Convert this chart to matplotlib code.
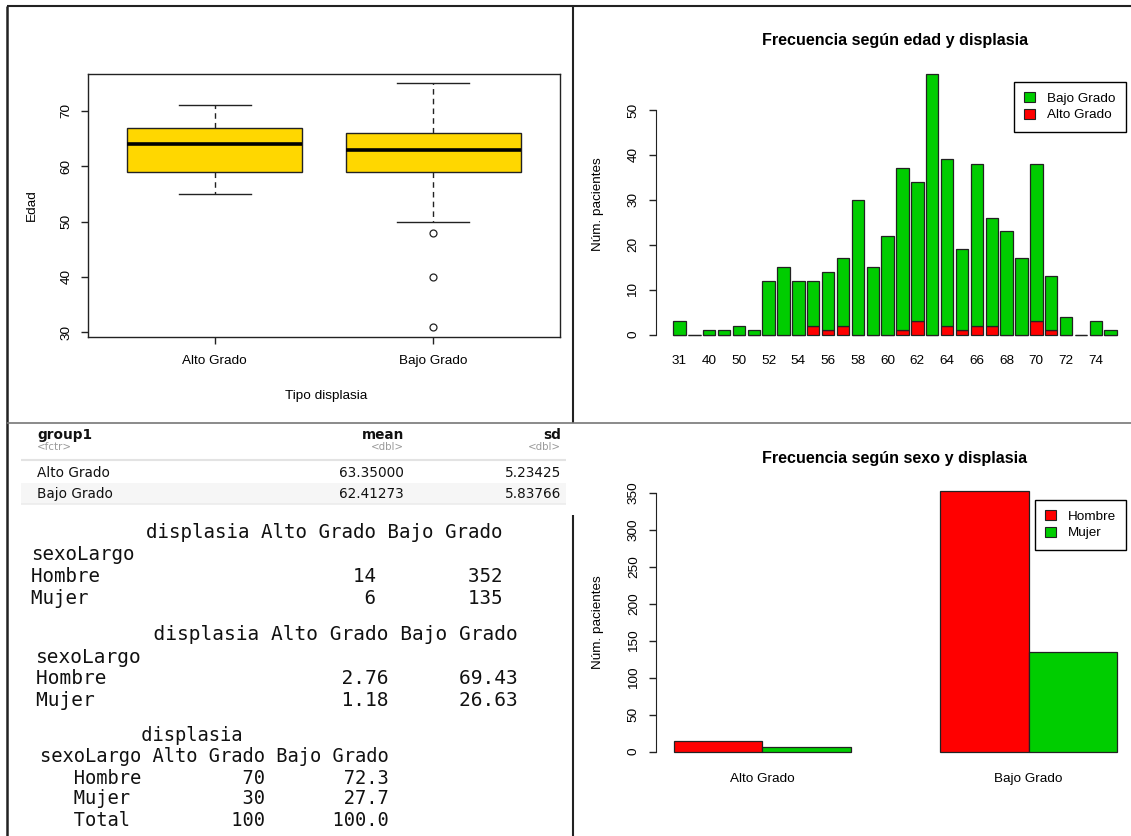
import matplotlib
matplotlib.use("Agg")
import matplotlib.pyplot as plt
from matplotlib.patches import Patch, Rectangle
from matplotlib.lines import Line2D

# ---------------- data ----------------
groups = ["Alto Grado", "Bajo Grado"]
box_whislo = [55, 50]
box_q1 = [59, 59]
box_med = [64, 63]
box_q3 = [67, 66]
box_whishi = [71, 75]
box_fliers = [[], [48, 40, 31]]

ages = ["31", "39", "40", "48", "50", "51", "52", "53", "54", "55", "56", "57",
        "58", "59", "60", "61", "62", "63", "64", "65", "66", "67", "68", "69",
        "70", "71", "72", "73", "74", "75"]
alto_por_edad = [0, 0, 0, 0, 0, 0, 0, 0, 0, 2, 1, 2, 0, 0, 0, 1, 3, 0, 2, 1,
                 2, 2, 0, 0, 3, 1, 0, 0, 0, 0]
bajo_por_edad = [3, 0, 1, 1, 2, 1, 12, 15, 12, 10, 13, 15, 30, 15, 22, 36, 31,
                 58, 37, 18, 36, 24, 23, 17, 35, 12, 4, 0, 3, 1]

sexos = ["Hombre", "Mujer"]
hombre_counts = [14, 352]
mujer_counts = [6, 135]
hombre_pct = [2.76, 69.43]
mujer_pct = [1.18, 26.63]
colpct_rows = ["Hombre", "Mujer", "Total"]
alto_colpct = [70, 30, 100]
bajo_colpct = [72.3, 27.7, 100.0]

mean_edad = [63.35000, 62.41273]
sd_edad = [5.23425, 5.83766]

# ---------------- layout helpers ----------------
W, H = 1131, 836
GOLD = "#FFD700"
GREEN = "#00CD00"
RED = "#FF0000"
AX_COL = "#222222"
RFONT = "Liberation Sans"
FS = 9.7

fig = plt.figure(figsize=(W / 100, H / 100), dpi=100)
fig.patch.set_facecolor("white")


def fx(x):
    return x / W


def fy(y):
    return 1 - y / H


def rect(x0, y0, x1, y1):
    return [x0 / W, 1 - y1 / H, (x1 - x0) / W, (y1 - y0) / H]


def hline(x0, x1, y, color, lw):
    fig.add_artist(Line2D([fx(x0), fx(x1)], [fy(y), fy(y)], transform=fig.transFigure,
                          color=color, lw=lw, solid_capstyle="butt"))


def vline(x, y0, y1, color, lw):
    fig.add_artist(Line2D([fx(x), fx(x)], [fy(y0), fy(y1)], transform=fig.transFigure,
                          color=color, lw=lw, solid_capstyle="butt"))


def rotate_yticks(ax):
    for t in ax.get_yticklabels():
        t.set_rotation(90)
        t.set_va("center")
        t.set_fontfamily(RFONT)
        t.set_fontsize(FS)


def r_legend(ax, handles, anchor_x, anchor_y):
    leg = ax.legend(handles=handles, loc="upper right",
                    bbox_to_anchor=(fx(anchor_x), fy(anchor_y)),
                    bbox_transform=fig.transFigure, borderaxespad=0, frameon=True,
                    fancybox=False, edgecolor="black", framealpha=1,
                    prop=dict(family=RFONT, size=FS), handlelength=0.8,
                    handleheight=0.75, handletextpad=0.9, borderpad=0.75,
                    labelspacing=0.3)
    leg.get_frame().set_linewidth(1)
    return leg


# ---------------- boxplot: Edad por tipo de displasia ----------------
ax1 = fig.add_axes(rect(88, 73.6, 560, 336.5))
stats = []
for i, g in enumerate(groups):
    stats.append(dict(label=g, whislo=box_whislo[i], q1=box_q1[i], med=box_med[i],
                      q3=box_q3[i], whishi=box_whishi[i], fliers=box_fliers[i]))
ax1.bxp(stats, positions=[1, 2], widths=0.8, capwidths=0.33, patch_artist=True,
        showfliers=True,
        boxprops=dict(facecolor=GOLD, edgecolor=AX_COL, lw=1),
        medianprops=dict(color="black", lw=2.6, solid_capstyle="butt"),
        whiskerprops=dict(color=AX_COL, lw=1, linestyle=(0, (4, 3))),
        capprops=dict(color=AX_COL, lw=1),
        flierprops=dict(marker="o", markersize=5, markerfacecolor="none",
                        markeredgecolor=AX_COL, markeredgewidth=0.9))
ax1.set_xlim(0.42, 2.58)
ax1.set_ylim(29.24, 76.76)
ax1.set_yticks([30, 40, 50, 60, 70])
ax1.set_xticks([1, 2])
ax1.set_xticklabels(groups, fontfamily=RFONT, fontsize=FS)
ax1.tick_params(axis="y", length=5, width=1, color=AX_COL, pad=6.3)
ax1.tick_params(axis="x", length=5, width=1, color=AX_COL, pad=8.6)
rotate_yticks(ax1)
for s in ax1.spines.values():
    s.set_color(AX_COL)
    s.set_linewidth(1)
fig.text(fx(31.7), fy(205), "Edad", rotation=90, ha="center", va="center",
         fontfamily=RFONT, fontsize=FS)
fig.text(fx(326), fy(396), "Tipo displasia", ha="center", va="center",
         fontfamily=RFONT, fontsize=FS)

# ---------------- barras apiladas: frecuencia según edad ----------------
ax2 = fig.add_axes(rect(655.5, 63.6, 1134.6, 345.1))
centers = [0.7 + 1.2 * i for i in range(len(ages))]
ax2.bar(centers, alto_por_edad, width=1.0, color=RED, edgecolor=AX_COL, lw=0.9)
ax2.bar(centers, bajo_por_edad, width=1.0, bottom=alto_por_edad, color=GREEN,
        edgecolor=AX_COL, lw=0.9)
ax2.set_xlim(-1.232, 37.432)
ax2.set_ylim(-2.32, 60.32)
ax2.set_yticks([0, 10, 20, 30, 40, 50])
ax2.set_xticks(centers[::2])
ax2.set_xticklabels(ages[::2], fontfamily=RFONT, fontsize=FS)
ax2.tick_params(axis="x", length=0, pad=7.3)
ax2.tick_params(axis="y", length=5, width=1, color=AX_COL, pad=6.6)
rotate_yticks(ax2)
for k in ("top", "right", "bottom"):
    ax2.spines[k].set_visible(False)
ax2.spines["left"].set_bounds(0, 50)
ax2.spines["left"].set_color(AX_COL)
ax2.patch.set_alpha(0)
fig.text(fx(598), fy(204), "Núm. pacientes", rotation=90, ha="center", va="center",
         fontfamily=RFONT, fontsize=FS)
fig.text(fx(895), fy(41), "Frecuencia según edad y displasia", ha="center",
         va="center", fontfamily=RFONT, fontsize=11.6, fontweight="bold")
r_legend(ax2, [Patch(facecolor=GREEN, edgecolor=AX_COL, lw=0.8, label="Bajo Grado"),
               Patch(facecolor=RED, edgecolor=AX_COL, lw=0.8, label="Alto Grado")],
         1125.7, 82)

# ---------------- barras agrupadas: frecuencia según sexo ----------------
ax3 = fig.add_axes(rect(656, 480.8, 1135, 762.1))
group_pos = [0, 3]
ax3.bar([p + 1.5 for p in group_pos], hombre_counts, width=1.0, color=RED,
        edgecolor=AX_COL, lw=0.9)
ax3.bar([p + 2.5 for p in group_pos], mujer_counts, width=1.0, color=GREEN,
        edgecolor=AX_COL, lw=0.9)
ax3.set_xlim(0.8, 6.2)
ax3.set_ylim(-14.08, 366.08)
ax3.set_yticks(range(0, 351, 50))
ax3.set_xticks([p + 2 for p in group_pos])
ax3.set_xticklabels(groups, fontfamily=RFONT, fontsize=FS)
ax3.tick_params(axis="x", length=0, pad=7.6)
ax3.tick_params(axis="y", length=5, width=1, color=AX_COL, pad=6.6)
rotate_yticks(ax3)
for k in ("top", "right", "bottom"):
    ax3.spines[k].set_visible(False)
ax3.spines["left"].set_bounds(0, 350)
ax3.spines["left"].set_color(AX_COL)
ax3.patch.set_alpha(0)
fig.text(fx(598), fy(622), "Núm. pacientes", rotation=90, ha="center", va="center",
         fontfamily=RFONT, fontsize=FS)
fig.text(fx(895), fy(458), "Frecuencia según sexo y displasia", ha="center",
         va="center", fontfamily=RFONT, fontsize=11.6, fontweight="bold")
r_legend(ax3, [Patch(facecolor=RED, edgecolor=AX_COL, lw=0.8, label=sexos[0]),
               Patch(facecolor=GREEN, edgecolor=AX_COL, lw=0.8, label=sexos[1])],
         1126.3, 500)

# ---------------- resumen media / sd ----------------
TFONT = "DejaVu Sans"
fig.add_artist(Rectangle((fx(21), fy(503.5)), (566 - 21) / W, (503.5 - 483) / H,
                         transform=fig.transFigure, facecolor="#f6f6f6",
                         edgecolor="none"))
hline(21, 566, 460, "#e3e3e3", 1.5)
hline(21, 566, 503.5, "#ececec", 1.2)
fig.text(fx(37), fy(435), "group1", fontfamily=TFONT, fontsize=9.8, fontweight="bold",
         va="center", color="#111")
fig.text(fx(37), fy(447), "<fctr>", fontfamily=TFONT, fontsize=7.4, va="center",
         color="#9a9a9a")
for xr, name in ((404, "mean"), (561, "sd")):
    fig.text(fx(xr), fy(435), name, fontfamily=TFONT, fontsize=9.8, fontweight="bold",
             ha="right", va="center", color="#111")
    fig.text(fx(xr), fy(447), "<dbl>", fontfamily=TFONT, fontsize=7.4, ha="right",
             va="center", color="#9a9a9a")
for i, g in enumerate(groups):
    yy = [472.7, 494][i]
    fig.text(fx(37), fy(yy), g, fontfamily=TFONT, fontsize=9.8, va="center", color="#111")
    fig.text(fx(404), fy(yy), f"{mean_edad[i]:.5f}", fontfamily=TFONT, fontsize=9.8,
             ha="right", va="center", color="#111")
    fig.text(fx(561), fy(yy), f"{sd_edad[i]:.5f}", fontfamily=TFONT, fontsize=9.8,
             ha="right", va="center", color="#111")

# ---------------- salida de consola (tablas) ----------------
MONO = "DejaVu Sans Mono"
header = "displasia " + " ".join(groups)

t1 = [" " * 10 + header, "sexoLargo",
      f"{sexos[0]:<9}{hombre_counts[0]:>21}{hombre_counts[1]:>11}",
      f"{sexos[1]:<9}{mujer_counts[0]:>21}{mujer_counts[1]:>11}"]
for line, yy in zip(t1, [533, 555, 576.7, 598.3]):
    fig.text(fx(31), fy(yy), line, fontfamily=MONO, fontsize=13.75, va="center",
             color="#111")

t2 = [" " * 10 + header, "sexoLargo",
      f"{sexos[0]:<9}{hombre_pct[0]:>21.2f}{hombre_pct[1]:>11.2f}",
      f"{sexos[1]:<9}{mujer_pct[0]:>21.2f}{mujer_pct[1]:>11.2f}"]
for line, yy in zip(t2, [635, 657.7, 679, 701]):
    fig.text(fx(35.7), fy(yy), line, fontfamily=MONO, fontsize=14.0, va="center",
             color="#111")

t3 = [" " * 9 + "displasia", "sexoLargo " + " ".join(groups)]
for name, a, b in zip(colpct_rows, alto_colpct, bajo_colpct):
    t3.append(f"   {name:<6}{a:>11d}{b:>11.1f}")
for line, yy in zip(t3, [735.7, 756.7, 778, 799, 820]):
    fig.text(fx(40.4), fy(yy), line, fontfamily=MONO, fontsize=13.5, va="center",
             color="#111")

# ---------------- marcos de los paneles ----------------
vline(7, 6, 836, "#222", 1.8)
hline(7, 1131, 6, "#222", 1.5)
vline(573.3, 6, 423, "#222", 1.5)
vline(573.3, 515, 836, "#222", 1.5)
hline(7, 1131, 423.3, "#777", 1.2)

fig.savefig("out.png", dpi=100, facecolor="white")
